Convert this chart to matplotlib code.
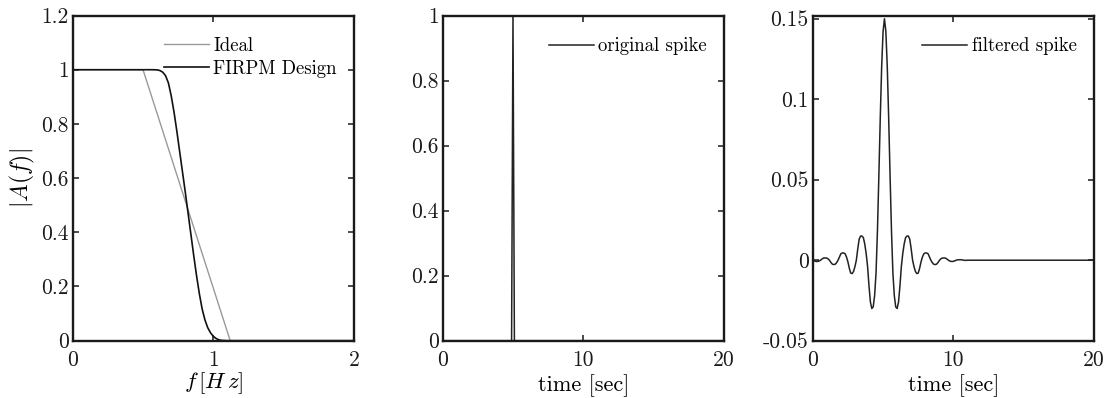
import numpy as np
import matplotlib
matplotlib.use("Agg")
import matplotlib.pyplot as plt
from matplotlib.ticker import FuncFormatter

plt.rcParams["font.family"] = "cmr10"
plt.rcParams["mathtext.fontset"] = "cm"
plt.rcParams["axes.unicode_minus"] = False
plt.rcParams["axes.formatter.use_mathtext"] = False

# ideal response (amplitude vs frequency)
f_ideal = [0.0, 0.5, 1.12, 2.0]
a_ideal = [1.0, 1.0, 0.0, 0.0]

# FIRPM design response
f_design = [0.0, 0.56, 0.60, 0.62, 0.64, 0.66, 0.68, 0.70, 0.72, 0.74, 0.76,
            0.78, 0.80, 0.82, 0.84, 0.86, 0.88, 0.90, 0.92, 0.94, 0.96,
            0.98, 1.00, 1.02, 1.04, 1.06, 1.10, 2.0]
a_design = [1.0, 1.0, 0.9995, 0.997, 0.991, 0.978, 0.952, 0.905, 0.845,
            0.775, 0.700, 0.625, 0.550, 0.472, 0.394, 0.316, 0.242, 0.175,
            0.118, 0.077, 0.048, 0.029, 0.016, 0.008, 0.003, 0.001, 0.0, 0.0]

# original spike
t_spike = [0.0, 4.9, 5.0, 5.1, 20.0]
x_spike = [0.0, 0.0, 1.0, 0.0, 0.0]

# filtered spike, sampled every 0.1 s from 0 to 11 s
t_filt = [round(0.1 * i, 1) for i in range(111)] + [20.0]
x_filt = [
    -0.0001, -0.0004, -0.0007, -0.0008, -0.0007, -0.0003, 0.0003, 0.0010,
    0.0014, 0.0014, 0.0013, 0.0008, -0.0002, -0.0015, -0.0025, -0.0027,
    -0.0025, -0.0015, 0.0000, 0.0020, 0.0040, 0.0045, 0.0045, 0.0040,
    0.0020, -0.0010, -0.0050, -0.0080, -0.0083, -0.0070, -0.0040, 0.0000,
    0.0070, 0.0130, 0.0150, 0.0150, 0.0140, 0.0100, 0.0040, -0.0040,
    -0.0160, -0.0260, -0.0300, -0.0290, -0.0220, -0.0080, 0.0180, 0.0520,
    0.0880, 0.1200, 0.1420, 0.1500,
    0.1420, 0.1200, 0.0880, 0.0520, 0.0180, -0.0080, -0.0220, -0.0290,
    -0.0300, -0.0260, -0.0160, -0.0040, 0.0040, 0.0100, 0.0140, 0.0150,
    0.0150, 0.0130, 0.0070, 0.0000, -0.0040, -0.0070, -0.0083, -0.0080,
    -0.0050, -0.0010, 0.0020, 0.0040, 0.0045, 0.0045, 0.0040, 0.0020,
    0.0000, -0.0015, -0.0025, -0.0027, -0.0025, -0.0015, -0.0002, 0.0008,
    0.0013, 0.0014, 0.0014, 0.0010, 0.0003, -0.0003, -0.0007, -0.0008,
    -0.0007, -0.0004, 0.0000, 0.0002, 0.0003, 0.0003, 0.0002, 0.0001,
    -0.0001, -0.0001, 0.0000,
] + [0.0]


def fmt(v, pos):
    return "%g" % round(v, 4)


def style(ax):
    ax.tick_params(direction="in", top=True, right=True, length=4,
                   width=1.1, labelsize=15.5, colors="#1a1a1a")
    ax.tick_params(axis="y", pad=3)
    ax.tick_params(axis="x", pad=7)
    for s in ax.spines.values():
        s.set_linewidth(1.7)
        s.set_color("#1a1a1a")
    ax.xaxis.set_major_formatter(FuncFormatter(fmt))
    ax.yaxis.set_major_formatter(FuncFormatter(fmt))


leg_kw = dict(loc="upper right", bbox_to_anchor=(1.016, 1.0), frameon=False,
              fontsize=13.5, handlelength=2.4, handletextpad=0.25,
              labelspacing=0.25, borderaxespad=0.75)

fig = plt.figure(figsize=(11.1, 3.98), dpi=100)
bottom, height, width = 0.144, 0.817, 0.2534

ax1 = fig.add_axes([0.0655, bottom, width, height])
ax1.plot(f_ideal, a_ideal, color="#999999", lw=1.0, label="Ideal")
ax1.plot(f_design, a_design, color="#111111", lw=1.2, label="FIRPM Design")
ax1.set_xlim(0, 2)
ax1.set_ylim(0, 1.2)
ax1.set_xticks([0, 1, 2])
ax1.set_yticks(np.arange(0, 1.21, 0.2))
ax1.set_ylabel(r"$|A(f)|$", fontsize=17, labelpad=3)
ax1.set_xlabel(r"$f\,[H\,z]$", fontsize=16.5, labelpad=0)
style(ax1)
ax1.legend(**leg_kw)

ax2 = fig.add_axes([0.3988, bottom, width, height])
ax2.plot(t_spike, x_spike, color="#222222", lw=1.1, label="original spike")
ax2.set_xlim(0, 20)
ax2.set_ylim(0, 1)
ax2.set_xticks([0, 10, 20])
ax2.set_yticks(np.arange(0, 1.01, 0.2))
ax2.set_xlabel("time [sec]", fontsize=16, labelpad=3)
style(ax2)
ax2.legend(**leg_kw)

ax3 = fig.add_axes([0.7322, bottom, width, height])
ax3.plot(t_filt, x_filt, color="#222222", lw=1.1, label="filtered spike")
ax3.set_xlim(0, 20)
ax3.set_ylim(-0.05, 0.152)
ax3.set_xticks([0, 10, 20])
ax3.set_yticks([-0.05, 0, 0.05, 0.1, 0.15])
ax3.set_xlabel("time [sec]", fontsize=16, labelpad=3)
style(ax3)
ax3.legend(**leg_kw)

fig.savefig("out.png", dpi=100)
